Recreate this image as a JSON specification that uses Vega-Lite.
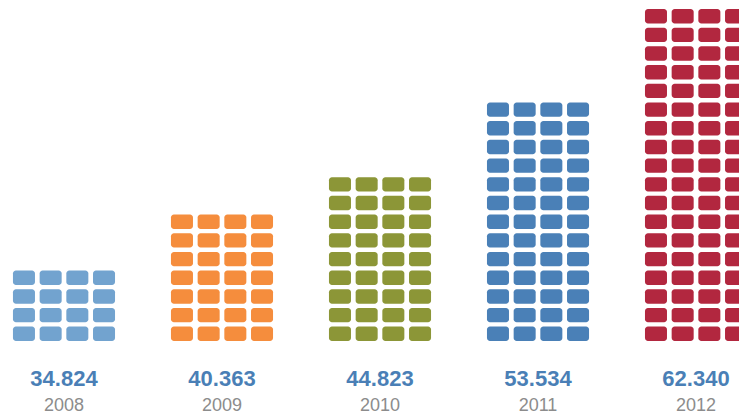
{
  "$schema": "https://vega.github.io/schema/vega-lite/v6.json",
  "width": 760,
  "height": 332,
  "autosize": "none",
  "padding": {"left": 0, "top": 9, "right": 0, "bottom": 75},
  "background": "#ffffff",
  "config": {"view": {"stroke": null}},
  "datasets": {
    "labels": [
      {"year": "2008", "value": "34.824"},
      {"year": "2009", "value": "40.363"},
      {"year": "2010", "value": "44.823"},
      {"year": "2011", "value": "53.534"},
      {"year": "2012", "value": "62.340"}
    ],
    "tiles": [
      {"year":"2008","col":1,"row":1},{"year":"2008","col":2,"row":1},{"year":"2008","col":3,"row":1},{"year":"2008","col":4,"row":1},
      {"year":"2008","col":1,"row":2},{"year":"2008","col":2,"row":2},{"year":"2008","col":3,"row":2},{"year":"2008","col":4,"row":2},
      {"year":"2008","col":1,"row":3},{"year":"2008","col":2,"row":3},{"year":"2008","col":3,"row":3},{"year":"2008","col":4,"row":3},
      {"year":"2008","col":1,"row":4},{"year":"2008","col":2,"row":4},{"year":"2008","col":3,"row":4},{"year":"2008","col":4,"row":4},

      {"year":"2009","col":1,"row":1},{"year":"2009","col":2,"row":1},{"year":"2009","col":3,"row":1},{"year":"2009","col":4,"row":1},
      {"year":"2009","col":1,"row":2},{"year":"2009","col":2,"row":2},{"year":"2009","col":3,"row":2},{"year":"2009","col":4,"row":2},
      {"year":"2009","col":1,"row":3},{"year":"2009","col":2,"row":3},{"year":"2009","col":3,"row":3},{"year":"2009","col":4,"row":3},
      {"year":"2009","col":1,"row":4},{"year":"2009","col":2,"row":4},{"year":"2009","col":3,"row":4},{"year":"2009","col":4,"row":4},
      {"year":"2009","col":1,"row":5},{"year":"2009","col":2,"row":5},{"year":"2009","col":3,"row":5},{"year":"2009","col":4,"row":5},
      {"year":"2009","col":1,"row":6},{"year":"2009","col":2,"row":6},{"year":"2009","col":3,"row":6},{"year":"2009","col":4,"row":6},
      {"year":"2009","col":1,"row":7},{"year":"2009","col":2,"row":7},{"year":"2009","col":3,"row":7},{"year":"2009","col":4,"row":7},

      {"year":"2010","col":1,"row":1},{"year":"2010","col":2,"row":1},{"year":"2010","col":3,"row":1},{"year":"2010","col":4,"row":1},
      {"year":"2010","col":1,"row":2},{"year":"2010","col":2,"row":2},{"year":"2010","col":3,"row":2},{"year":"2010","col":4,"row":2},
      {"year":"2010","col":1,"row":3},{"year":"2010","col":2,"row":3},{"year":"2010","col":3,"row":3},{"year":"2010","col":4,"row":3},
      {"year":"2010","col":1,"row":4},{"year":"2010","col":2,"row":4},{"year":"2010","col":3,"row":4},{"year":"2010","col":4,"row":4},
      {"year":"2010","col":1,"row":5},{"year":"2010","col":2,"row":5},{"year":"2010","col":3,"row":5},{"year":"2010","col":4,"row":5},
      {"year":"2010","col":1,"row":6},{"year":"2010","col":2,"row":6},{"year":"2010","col":3,"row":6},{"year":"2010","col":4,"row":6},
      {"year":"2010","col":1,"row":7},{"year":"2010","col":2,"row":7},{"year":"2010","col":3,"row":7},{"year":"2010","col":4,"row":7},
      {"year":"2010","col":1,"row":8},{"year":"2010","col":2,"row":8},{"year":"2010","col":3,"row":8},{"year":"2010","col":4,"row":8},
      {"year":"2010","col":1,"row":9},{"year":"2010","col":2,"row":9},{"year":"2010","col":3,"row":9},{"year":"2010","col":4,"row":9},

      {"year":"2011","col":1,"row":1},{"year":"2011","col":2,"row":1},{"year":"2011","col":3,"row":1},{"year":"2011","col":4,"row":1},
      {"year":"2011","col":1,"row":2},{"year":"2011","col":2,"row":2},{"year":"2011","col":3,"row":2},{"year":"2011","col":4,"row":2},
      {"year":"2011","col":1,"row":3},{"year":"2011","col":2,"row":3},{"year":"2011","col":3,"row":3},{"year":"2011","col":4,"row":3},
      {"year":"2011","col":1,"row":4},{"year":"2011","col":2,"row":4},{"year":"2011","col":3,"row":4},{"year":"2011","col":4,"row":4},
      {"year":"2011","col":1,"row":5},{"year":"2011","col":2,"row":5},{"year":"2011","col":3,"row":5},{"year":"2011","col":4,"row":5},
      {"year":"2011","col":1,"row":6},{"year":"2011","col":2,"row":6},{"year":"2011","col":3,"row":6},{"year":"2011","col":4,"row":6},
      {"year":"2011","col":1,"row":7},{"year":"2011","col":2,"row":7},{"year":"2011","col":3,"row":7},{"year":"2011","col":4,"row":7},
      {"year":"2011","col":1,"row":8},{"year":"2011","col":2,"row":8},{"year":"2011","col":3,"row":8},{"year":"2011","col":4,"row":8},
      {"year":"2011","col":1,"row":9},{"year":"2011","col":2,"row":9},{"year":"2011","col":3,"row":9},{"year":"2011","col":4,"row":9},
      {"year":"2011","col":1,"row":10},{"year":"2011","col":2,"row":10},{"year":"2011","col":3,"row":10},{"year":"2011","col":4,"row":10},
      {"year":"2011","col":1,"row":11},{"year":"2011","col":2,"row":11},{"year":"2011","col":3,"row":11},{"year":"2011","col":4,"row":11},
      {"year":"2011","col":1,"row":12},{"year":"2011","col":2,"row":12},{"year":"2011","col":3,"row":12},{"year":"2011","col":4,"row":12},
      {"year":"2011","col":1,"row":13},{"year":"2011","col":2,"row":13},{"year":"2011","col":3,"row":13},{"year":"2011","col":4,"row":13},

      {"year":"2012","col":1,"row":1},{"year":"2012","col":2,"row":1},{"year":"2012","col":3,"row":1},{"year":"2012","col":4,"row":1},
      {"year":"2012","col":1,"row":2},{"year":"2012","col":2,"row":2},{"year":"2012","col":3,"row":2},{"year":"2012","col":4,"row":2},
      {"year":"2012","col":1,"row":3},{"year":"2012","col":2,"row":3},{"year":"2012","col":3,"row":3},{"year":"2012","col":4,"row":3},
      {"year":"2012","col":1,"row":4},{"year":"2012","col":2,"row":4},{"year":"2012","col":3,"row":4},{"year":"2012","col":4,"row":4},
      {"year":"2012","col":1,"row":5},{"year":"2012","col":2,"row":5},{"year":"2012","col":3,"row":5},{"year":"2012","col":4,"row":5},
      {"year":"2012","col":1,"row":6},{"year":"2012","col":2,"row":6},{"year":"2012","col":3,"row":6},{"year":"2012","col":4,"row":6},
      {"year":"2012","col":1,"row":7},{"year":"2012","col":2,"row":7},{"year":"2012","col":3,"row":7},{"year":"2012","col":4,"row":7},
      {"year":"2012","col":1,"row":8},{"year":"2012","col":2,"row":8},{"year":"2012","col":3,"row":8},{"year":"2012","col":4,"row":8},
      {"year":"2012","col":1,"row":9},{"year":"2012","col":2,"row":9},{"year":"2012","col":3,"row":9},{"year":"2012","col":4,"row":9},
      {"year":"2012","col":1,"row":10},{"year":"2012","col":2,"row":10},{"year":"2012","col":3,"row":10},{"year":"2012","col":4,"row":10},
      {"year":"2012","col":1,"row":11},{"year":"2012","col":2,"row":11},{"year":"2012","col":3,"row":11},{"year":"2012","col":4,"row":11},
      {"year":"2012","col":1,"row":12},{"year":"2012","col":2,"row":12},{"year":"2012","col":3,"row":12},{"year":"2012","col":4,"row":12},
      {"year":"2012","col":1,"row":13},{"year":"2012","col":2,"row":13},{"year":"2012","col":3,"row":13},{"year":"2012","col":4,"row":13},
      {"year":"2012","col":1,"row":14},{"year":"2012","col":2,"row":14},{"year":"2012","col":3,"row":14},{"year":"2012","col":4,"row":14},
      {"year":"2012","col":1,"row":15},{"year":"2012","col":2,"row":15},{"year":"2012","col":3,"row":15},{"year":"2012","col":4,"row":15},
      {"year":"2012","col":1,"row":16},{"year":"2012","col":2,"row":16},{"year":"2012","col":3,"row":16},{"year":"2012","col":4,"row":16},
      {"year":"2012","col":1,"row":17},{"year":"2012","col":2,"row":17},{"year":"2012","col":3,"row":17},{"year":"2012","col":4,"row":17},
      {"year":"2012","col":1,"row":18},{"year":"2012","col":2,"row":18},{"year":"2012","col":3,"row":18},{"year":"2012","col":4,"row":18}
    ]
  },
  "layer": [
    {
      "data": {"name": "tiles"},
      "mark": {"type": "rect", "cornerRadius": 3},
      "encoding": {
        "x": {
          "field": "year",
          "type": "ordinal",
          "scale": {"paddingInner": 0.354, "paddingOuter": 0.082},
          "axis": {
            "title": null,
            "domain": false,
            "ticks": false,
            "labelAngle": 0,
            "labelFont": "Liberation Sans",
            "labelFontSize": 18,
            "labelColor": "#8c8c8c",
            "labelBaseline": "alphabetic",
            "labelPadding": 69
          }
        },
        "xOffset": {
          "field": "col",
          "type": "ordinal",
          "scale": {"paddingInner": 0.175, "paddingOuter": 0}
        },
        "y": {
          "field": "row",
          "type": "ordinal",
          "sort": "descending",
          "scale": {"paddingInner": 0.23, "paddingOuter": 0},
          "axis": null
        },
        "color": {
          "field": "year",
          "type": "nominal",
          "scale": {
            "domain": ["2008", "2009", "2010", "2011", "2012"],
            "range": ["#72a3cf", "#f58d3d", "#8c9637", "#4a80b7", "#b2273f"]
          },
          "legend": null
        }
      }
    },
    {
      "data": {"name": "labels"},
      "mark": {
        "type": "text",
        "font": "Liberation Sans",
        "fontSize": 22,
        "fontWeight": "bold",
        "color": "#4a7fb6",
        "baseline": "alphabetic",
        "dy": 52
      },
      "encoding": {
        "x": {"field": "year", "type": "ordinal"},
        "y": {"datum": 1, "type": "ordinal"},
        "text": {"field": "value"}
      }
    }
  ]
}
